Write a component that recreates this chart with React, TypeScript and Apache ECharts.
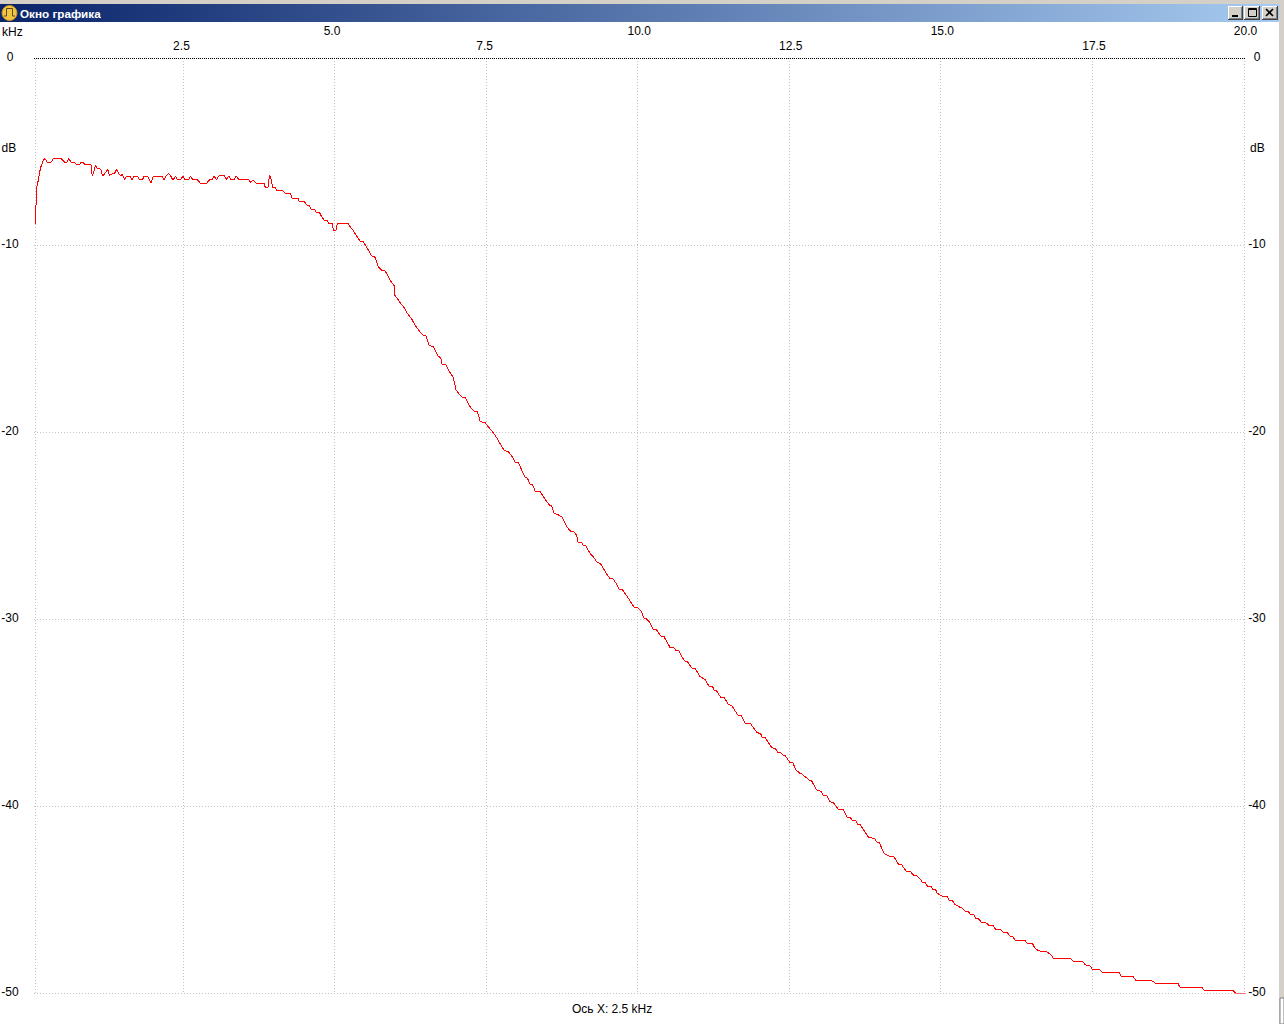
import React, { useEffect, useRef } from "react";
import * as echarts from "echarts";

const FONT = '"Liberation Sans", Arial, sans-serif';

const windowTitle = "Окно графика";
const xUnit = "kHz";
const yUnit = "dB";
const statusText = "Ось X: 2.5 kHz";

const xTicksUpperLeft = [5];
const xTicksUpperRight = [10, 15, 20];
const xTicksLowerLeft = [2.5, 7.5];
const xTicksLowerRight = [12.5, 17.5];
const xFirstGridValue = 0.068;
const yTopLineValue = -0.027;

// [kHz, dB]
const passband = [
  [0.054,-8.84],[0.07,-8.82],[0.07,-7.86],[0.087,-7.86],[0.087,-6.92],[0.109,-6.61],[0.125,-6.35],[0.142,-6.02],[0.158,-5.81],[0.18,-5.6],
  [0.202,-5.45],[0.219,-5.37],[0.241,-5.45],[0.263,-5.58],[0.323,-5.58],[0.362,-5.38],[0.488,-5.38],[0.527,-5.51],[0.549,-5.58],[0.582,-5.58],
  [0.615,-5.38],[0.659,-5.58],[0.714,-5.6],[0.747,-5.72],[0.785,-5.72],[0.818,-5.6],[0.857,-5.6],[0.895,-5.72],[0.983,-5.72],[0.994,-6.02],
  [1.005,-6.31],[1.033,-6.02],[1.06,-5.74],[1.088,-5.9],[1.143,-5.95],[1.176,-6.31],[1.22,-6.13],[1.258,-5.95],[1.285,-6.26],[1.33,-6.2],
  [1.373,-6.17],[1.406,-5.95],[1.445,-6.2],[1.472,-6.31],[1.5,-6.2],[1.538,-6.52],[1.566,-6.33],[1.632,-6.33],[1.659,-6.52],[1.692,-6.33],
  [1.753,-6.33],[1.78,-6.52],[1.83,-6.52],[1.857,-6.33],[1.918,-6.33],[1.945,-6.52],[1.973,-6.7],[2.011,-6.33],[2.154,-6.33],[2.187,-6.52],
  [2.231,-6.27],[2.259,-6.17],[2.292,-6.26],[2.33,-6.52],[2.38,-6.33],[2.412,-6.52],[2.456,-6.52],[2.5,-6.33],[2.539,-6.52],[2.588,-6.52],
  [2.622,-6.33],[2.666,-6.52],[2.742,-6.52],[2.776,-6.65],
];
const shoulder = [
  [2.781,-6.7],[2.891,-6.7],[2.935,-6.52],[2.979,-6.52],[3.012,-6.31],[3.056,-6.52],[3.089,-6.31],[3.188,-6.31],[3.221,-6.52],[3.254,-6.31],
  [3.298,-6.52],[3.342,-6.52],[3.375,-6.31],[3.43,-6.52],[3.584,-6.52],[3.617,-6.65],[3.65,-6.52],[3.705,-6.7],[3.836,-6.7],[3.858,-6.92],
  [3.903,-6.92],[3.925,-6.31],[3.941,-6.31],[3.979,-6.92],[4.023,-6.92],[4.056,-7.11],[4.155,-7.11],[4.188,-7.24],[4.276,-7.27],[4.298,-7.49],
  [4.397,-7.5],[4.419,-7.7],[4.507,-7.7],[4.54,-7.86],[4.584,-7.91],[4.612,-8.09],[4.672,-8.09],[4.694,-8.24],[4.749,-8.25],[4.788,-8.49],
  [4.826,-8.66],[4.881,-8.7],[4.903,-8.84],[4.958,-8.84],[4.98,-9.2],[5.024,-9.2],[5.046,-8.84],[5.222,-8.84],[5.255,-9.02],[5.31,-9.23],
];
const rolloffA = [
  [5.337,-9.38],[5.42,-9.79],[5.475,-9.82],[5.557,-10.27],[5.612,-10.59],[5.662,-10.62],[5.722,-11.16],[5.777,-11.34],[5.832,-11.37],[5.915,-11.87],
  [5.981,-12.17],[5.992,-12.67],[6.08,-13.07],[6.146,-13.35],[6.212,-13.71],[6.272,-13.96],[6.354,-14.42],[6.453,-14.81],[6.508,-14.85],[6.563,-15.38],
  [6.629,-15.44],[6.712,-15.97],[6.75,-16.01],[6.772,-16.36],[6.838,-16.42],[6.893,-16.77],[6.959,-17.09],[7.003,-17.75],[7.097,-18.13],[7.152,-18.16],
  [7.245,-18.7],[7.306,-18.91],[7.355,-18.91],[7.405,-19.45],[7.482,-19.5],[7.537,-19.72],[7.647,-20.16],
];
const rolloffB = [
  [7.729,-20.61],[7.8,-21.0],[7.866,-21.05],[7.949,-21.41],[7.976,-21.62],[8.031,-21.64],[8.086,-22.03],[8.141,-22.42],[8.18,-22.46],[8.224,-22.78],
  [8.268,-22.82],[8.306,-23.16],[8.389,-23.19],[8.488,-23.67],[8.543,-23.9],[8.581,-23.96],[8.62,-24.35],[8.675,-24.4],[8.751,-24.55],[8.828,-25.06],
  [8.895,-25.31],[8.949,-25.35],[8.993,-25.51],[9.015,-25.88],[9.076,-25.92],[9.103,-26.06],[9.147,-26.1],[9.224,-26.54],[9.268,-26.67],[9.323,-26.93],
  [9.389,-27.06],[9.488,-27.59],[9.543,-27.83],[9.598,-27.86],[9.642,-28.09],[9.692,-28.41],[9.752,-28.45],[9.846,-28.89],[9.939,-29.36],[9.994,-29.39],
  [10.054,-29.55],[10.104,-29.96],[10.148,-30.0],[10.203,-30.2],
];
const rolloffC = [
  [10.258,-30.55],[10.313,-30.59],[10.379,-30.91],[10.434,-30.94],[10.533,-31.52],[10.604,-31.55],[10.626,-31.68],[10.676,-31.69],[10.725,-32.01],[10.78,-32.26],
  [10.824,-32.3],[10.89,-32.62],[10.951,-32.66],[11.028,-33.08],[11.11,-33.24],[11.176,-33.58],[11.237,-33.62],[11.259,-33.81],[11.302,-33.85],[11.369,-34.19],
  [11.429,-34.21],[11.495,-34.56],[11.55,-34.63],[11.649,-35.13],[11.709,-35.17],[11.775,-35.58],[11.863,-35.6],[11.935,-35.94],[11.973,-36.08],[12.028,-36.13],
  [12.05,-36.31],[12.105,-36.35],[12.21,-36.88],[12.27,-36.92],[12.303,-37.11],[12.358,-37.15],[12.391,-37.27],[12.435,-37.31],[12.506,-37.66],[12.556,-37.68],
  [12.611,-38.07],[12.677,-38.25],[12.715,-38.29],[12.748,-38.43],[12.787,-38.47],[12.842,-38.65],
];
const rolloffD = [
  [12.869,-38.66],[12.952,-39.14],[13.029,-39.23],[13.062,-39.43],[13.117,-39.45],[13.172,-39.77],[13.227,-39.82],[13.309,-40.18],[13.392,-40.21],[13.458,-40.61],
  [13.513,-40.64],[13.54,-40.77],[13.601,-40.8],[13.623,-40.96],[13.667,-41.0],[13.81,-41.69],[13.908,-41.73],[13.941,-41.92],[13.985,-41.96],[14.062,-42.53],
  [14.139,-42.67],[14.227,-42.71],[14.299,-43.1],[14.354,-43.14],[14.425,-43.48],[14.502,-43.51],[14.546,-43.69],[14.601,-43.74],[14.667,-43.92],[14.689,-44.06],
  [14.744,-44.1],[14.777,-44.28],[14.849,-44.33],[14.865,-44.46],[14.915,-44.49],[14.942,-44.67],[15.014,-44.81],[15.107,-44.85],[15.14,-45.04],[15.195,-45.08],
  [15.233,-45.26],[15.305,-45.4],[15.349,-45.44],[15.398,-45.63],[15.459,-45.67],[15.481,-45.79],[15.547,-45.83],[15.58,-46.02],[15.624,-46.04],[15.668,-46.22],
  [15.756,-46.26],[15.789,-46.38],[15.866,-46.4],[15.899,-46.58],[15.987,-46.61],[16.031,-46.77],[16.102,-46.79],[16.14,-46.95],[16.184,-46.99],[16.229,-47.18],
  [16.388,-47.2],[16.426,-47.34],[16.47,-47.36],
];
const tail = [
  [16.515,-47.38],[16.553,-47.61],[16.614,-47.75],[16.746,-47.79],[16.828,-47.99],[16.856,-48.15],[17.142,-48.16],[17.186,-48.31],[17.35,-48.34],[17.383,-48.5],
  [17.471,-48.56],[17.493,-48.73],[17.625,-48.77],[17.658,-48.89],[17.944,-48.91],[17.977,-49.13],[18.175,-49.14],[18.219,-49.34],[18.505,-49.36],[18.538,-49.48],
  [18.912,-49.5],[18.945,-49.7],[19.308,-49.71],[19.341,-49.86],[19.824,-49.87],[19.857,-50.0],[20.03,-50.0],
];

const responseCurve = [...passband, ...shoulder, ...rolloffA, ...rolloffB, ...rolloffC, ...rolloffD, ...tail];

const GREY = "#c4c4c4";
const FACE = "#d4d0c8";
const X_MIN = 0.043;
const X_MAX = 20.033;

function topAxis(values: number[], margin: number, padding: number[]) {
  return {
    type: "value",
    gridIndex: 0,
    position: "top",
    min: X_MIN,
    max: X_MAX,
    axisLine: { show: false },
    axisTick: { show: false },
    splitLine: { show: false },
    axisLabel: {
      show: true,
      customValues: values,
      margin,
      padding,
      color: "#000",
      fontFamily: FONT,
      fontSize: 12,
      formatter: (v: number) => v.toFixed(1),
    },
  };
}

function sideAxis(position: string, margin: number) {
  return {
    type: "value",
    gridIndex: 0,
    position,
    min: -50,
    max: 0,
    interval: 10,
    axisLine: { show: false },
    axisTick: { show: false },
    splitLine: {
      show: position === "left",
      lineStyle: { color: GREY, width: 1, type: [1, 2] },
    },
    axisLabel: {
      margin,
      align: "center",
      verticalAlign: "bottom",
      lineHeight: 2,
      color: "#000",
      fontFamily: FONT,
      fontSize: 12,
    },
  };
}

function label(text: string, x: number, y: number, fill = "#000", fontWeight = "normal", fontSize = 12) {
  return {
    type: "text",
    x,
    y,
    silent: true,
    style: { text, fill, font: `${fontWeight} ${fontSize}px ${FONT}`, verticalAlign: "middle" },
  };
}

function button(x: number, w: number) {
  return [
    { type: "rect", shape: { x, y: 6, width: w, height: 14 }, style: { fill: "#404040" } },
    { type: "rect", shape: { x, y: 6, width: w - 1, height: 13 }, style: { fill: "#ffffff" } },
    { type: "rect", shape: { x: x + 1, y: 7, width: w - 2, height: 12 }, style: { fill: "#808080" } },
    { type: "rect", shape: { x: x + 1, y: 7, width: w - 3, height: 11 }, style: { fill: FACE } },
  ];
}

function windowChrome() {
  const stroke = { stroke: "#000", lineWidth: 1, fill: "none" };
  return [
    { type: "rect", shape: { x: 0, y: 0, width: 1284, height: 4 }, style: { fill: FACE } },
    {
      type: "rect",
      shape: { x: 0, y: 4, width: 1279, height: 18 },
      style: {
        fill: new echarts.graphic.LinearGradient(0, 0, 1, 0, [
          { offset: 0, color: "#0a246a" },
          { offset: 1, color: "#a6caf0" },
        ]),
      },
    },
    { type: "rect", shape: { x: 1279, y: 0, width: 5, height: 1024 }, style: { fill: FACE } },
    { type: "rect", shape: { x: 1280, y: 998, width: 4, height: 26 }, style: { fill: "#fff", stroke: "#808080", lineWidth: 1 } },
    ...button(1228, 15),
    ...button(1244, 16),
    ...button(1262, 16),
    { type: "rect", shape: { x: 1232, y: 15, width: 6, height: 2 }, style: { fill: "#000" } },
    { type: "rect", shape: { x: 1248.5, y: 8.5, width: 8, height: 8 }, style: stroke },
    { type: "line", shape: { x1: 1248, y1: 9.5, x2: 1257, y2: 9.5 }, style: stroke },
    { type: "line", shape: { x1: 1266, y1: 9, x2: 1273, y2: 16 }, style: { ...stroke, lineWidth: 1.6 } },
    { type: "line", shape: { x1: 1273, y1: 9, x2: 1266, y2: 16 }, style: { ...stroke, lineWidth: 1.6 } },
    { type: "circle", shape: { cx: 9.5, cy: 13, r: 7.5 }, style: { fill: "#f2c443", stroke: "#c98f1c", lineWidth: 1 } },
    {
      type: "polyline",
      shape: { points: [[4, 16], [6.5, 16], [6.5, 8.5], [12.5, 8.5], [12.5, 16], [15, 16]] },
      style: { stroke: "#5a4a20", lineWidth: 1, fill: "none" },
    },
    label(windowTitle, 20, 13.2, "#fff", "bold", 11.7),
    label(xUnit, 2, 31.5),
    label(yUnit, 1.5, 148),
    label(yUnit, 1250, 148),
    label(statusText, 572, 1009),
  ];
}

export default function App() {
  const ref = useRef<HTMLDivElement>(null);
  useEffect(() => {
    const chart = echarts.init(ref.current!, null, { renderer: "svg" });
    chart.setOption({
      animation: false,
      backgroundColor: "#ffffff",
      grid: [
        { left: 34, top: 58, width: 1212, height: 935, outerBoundsMode: "none" },
        { left: 31.2, top: 58, width: 1212.6, height: 935, outerBoundsMode: "none" },
      ],
      xAxis: [
        topAxis(xTicksUpperLeft, 21, [0, 5, 0, 0]),
        topAxis(xTicksUpperRight, 21, [0, 0, 0, 3]),
        topAxis(xTicksLowerLeft, 6, [0, 3, 0, 0]),
        topAxis(xTicksLowerRight, 6, [0, 0, 0, 3]),
        {
          type: "value",
          gridIndex: 1,
          min: 0,
          max: 20,
          interval: 2.5,
          axisLine: { show: false },
          axisTick: { show: false },
          axisLabel: { show: false },
          splitLine: { show: true, showMinLine: false, lineStyle: { color: GREY, width: 1, type: [1, 2] } },
        },
      ],
      yAxis: [
        sideAxis("left", 24),
        sideAxis("right", 11),
        { type: "value", gridIndex: 1, min: -50, max: 0, show: false },
      ],
      series: [
        {
          type: "line",
          silent: true,
          data: responseCurve,
          showSymbol: false,
          smooth: false,
          z: 5,
          lineStyle: { color: "#ff0000", width: 1 },
          markLine: {
            silent: true,
            animation: false,
            symbol: "none",
            label: { show: false },
            z: 1,
            data: [
              { xAxis: xFirstGridValue, lineStyle: { color: GREY, width: 1, type: [1, 2] } },
              { yAxis: yTopLineValue, lineStyle: { color: "#000", width: 1, type: [1, 1] } },
            ],
          },
        },
      ],
      graphic: windowChrome(),
    });
    return () => chart.dispose();
  }, []);
  return (
    <div ref={ref} style={{ position: "absolute", left: 0, top: 0, width: 1284, height: 1024 }}>
      <style>{`svg path[stroke="#ff0000"],svg path[stroke="#f00"],svg path[stroke="rgb(255,0,0)"],svg path[stroke="red"]{shape-rendering:crispEdges}`}</style>
    </div>
  );
}
